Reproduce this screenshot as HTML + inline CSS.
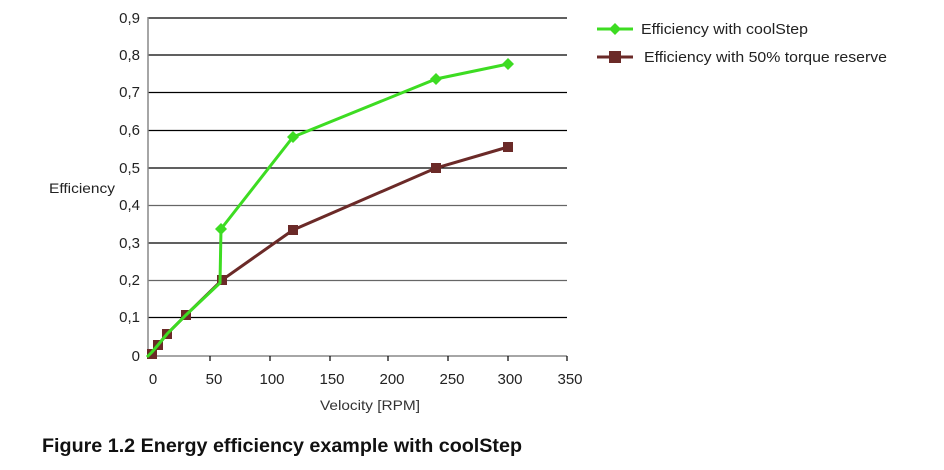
<!DOCTYPE html>
<html><head><meta charset="utf-8"><style>body{margin:0;background:#fff}svg{display:block}</style></head><body>
<svg width="944" height="470" xmlns="http://www.w3.org/2000/svg" font-family="Liberation Sans, sans-serif">
<g stroke="#000" stroke-width="1.2">
<line x1="148" y1="18" x2="567" y2="18"/>
<line x1="148" y1="55" x2="567" y2="55"/>
<line x1="148" y1="92.5" x2="567" y2="92.5"/>
<line x1="148" y1="130.5" x2="567" y2="130.5"/>
<line x1="148" y1="168" x2="567" y2="168"/>
<line x1="148" y1="205.5" x2="567" y2="205.5" stroke="#666"/>
<line x1="148" y1="243" x2="567" y2="243"/>
<line x1="148" y1="280.5" x2="567" y2="280.5" stroke="#666"/>
<line x1="148" y1="317.5" x2="567" y2="317.5"/>
</g>
<line x1="148" y1="17" x2="148" y2="356" stroke="#888" stroke-width="1.5"/>
<line x1="148" y1="356" x2="567" y2="356" stroke="#888" stroke-width="1.5"/>
<g stroke="#000" stroke-width="1.2">
<line x1="210" y1="356" x2="210" y2="361"/><line x1="270" y1="356" x2="270" y2="361"/><line x1="330" y1="356" x2="330" y2="361"/><line x1="388" y1="356" x2="388" y2="361"/><line x1="448" y1="356" x2="448" y2="361"/><line x1="508" y1="356" x2="508" y2="361"/><line x1="567" y1="356" x2="567" y2="361"/>
</g>
<g font-size="15" fill="#222" text-anchor="end">
<text x="140" y="23">0,9</text><text x="140" y="60">0,8</text><text x="140" y="97">0,7</text><text x="140" y="135">0,6</text><text x="140" y="173">0,5</text><text x="140" y="210">0,4</text><text x="140" y="248">0,3</text><text x="140" y="285">0,2</text><text x="140" y="322">0,1</text><text x="140" y="361">0</text>
</g>
<g font-size="15" fill="#222" text-anchor="middle">
<text x="153" y="384">0</text><text x="214" y="384">50</text><text x="272" y="384">100</text><text x="332" y="384">150</text><text x="392" y="384">200</text><text x="452" y="384">250</text><text x="510" y="384">300</text><text x="570" y="384">350</text>
</g>
<text x="320" y="410" font-size="14" fill="#333" textLength="100" lengthAdjust="spacingAndGlyphs">Velocity [RPM]</text>
<text x="49" y="193" font-size="14" fill="#222" textLength="66" lengthAdjust="spacingAndGlyphs">Efficiency</text>
<polyline fill="none" stroke="#6b2a28" stroke-width="3" points="152,354 155,350 158,345 167,334 186,315 222,280 293,230 436,168 508,147"/>
<g fill="#6b2a28">
<rect x="147" y="349" width="10" height="10"/><rect x="153" y="340" width="10" height="10"/><rect x="162" y="329" width="10" height="10"/><rect x="181" y="310" width="10" height="10"/><rect x="217" y="275" width="10" height="10"/><rect x="288" y="225" width="10" height="10"/><rect x="431" y="163" width="10" height="10"/><rect x="503" y="142" width="10" height="10"/>
</g>
<polyline fill="none" stroke="#3ddc22" stroke-width="3" points="147,357 152,352 158,345 167,334 186,315 220,283 221,229 293,137 436,79 508,64"/>
<g fill="#3ddc22">
<path d="M221,223 l6,6 l-6,6 l-6,-6z"/><path d="M293,131 l6,6 l-6,6 l-6,-6z"/><path d="M436,73 l6,6 l-6,6 l-6,-6z"/><path d="M508,58 l6,6 l-6,6 l-6,-6z"/>
</g>
<line x1="597" y1="29" x2="633" y2="29" stroke="#3ddc22" stroke-width="3"/>
<path d="M615,23 l6,6 l-6,6 l-6,-6z" fill="#3ddc22"/>
<text x="641" y="34" font-size="15" fill="#222" textLength="167" lengthAdjust="spacingAndGlyphs">Efficiency with coolStep</text>
<line x1="597" y1="57" x2="633" y2="57" stroke="#6b2a28" stroke-width="3"/>
<rect x="609" y="51" width="12" height="12" fill="#6b2a28"/>
<text x="644" y="62" font-size="15" fill="#222" textLength="243" lengthAdjust="spacingAndGlyphs">Efficiency with 50% torque reserve</text>
<text x="42" y="452" font-size="19" font-weight="bold" fill="#111" textLength="480" lengthAdjust="spacingAndGlyphs">Figure 1.2 Energy efficiency example with coolStep</text>
</svg>
</body></html>
